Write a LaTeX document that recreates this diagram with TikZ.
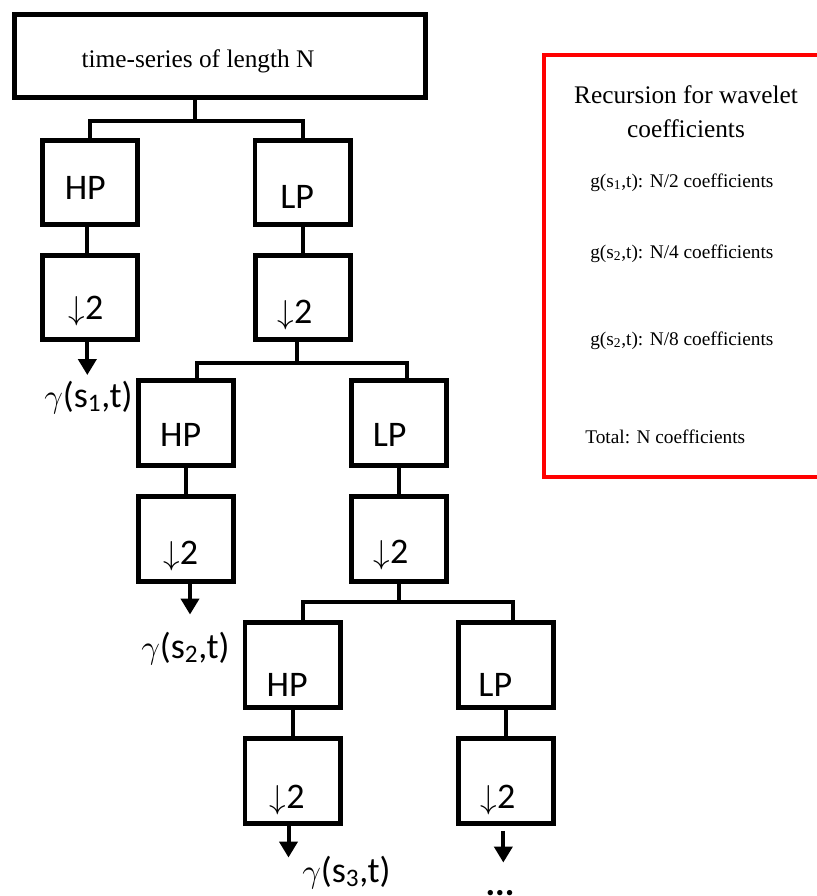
\documentclass[tikz,border=0pt]{standalone}
\usepackage{xcolor}
\usepackage{fontspec}
\setmainfont{Liberation Serif}
\newfontfamily\calibfont{Carlito}
\usetikzlibrary{arrows.meta}

\begin{document}
\begin{tikzpicture}[x=0.75pt,y=-0.75pt,
filt/.style={rectangle,draw,line width=3.6pt,minimum width=71.4pt,minimum height=63.2pt,inner sep=0pt},
lab/.style={font=\calibfont\fontsize{27}{30}\selectfont,inner sep=0pt},
gam/.style={lab,anchor=base west},
wire/.style={line width=3pt},
outarr/.style={line width=3pt,-{Triangle[length=12pt,width=13.5pt]}},
note/.style={anchor=base west,inner sep=0pt,font=\fontsize{14.5}{17}\selectfont}]
\useasboundingbox (0,0) rectangle (817,896);

\node[rectangle,draw,line width=3.6pt,minimum width=308.4pt,minimum height=62.4pt] (top) at (220,56) {};
\node[font=\fontsize{19}{22}\selectfont] (toptext) at (198,61) {time-series of length N};

\node[filt,label={[lab,xshift=-3.5pt,yshift=-4pt]center:HP}] (HP1) at (90,182.5) {};
\node[filt,label={[lab,xshift=-4pt,yshift=-11pt]center:LP}] (LP1) at (302.5,182.5) {};
\node[filt,label={[lab,xshift=-3pt,yshift=-10pt]center:$\downarrow$2}] (D1a) at (90,297.5) {};
\node[filt,label={[lab,xshift=-6pt,yshift=-13pt]center:$\downarrow$2}] (D1b) at (303,297.5) {};
\node[filt,label={[lab,xshift=-4pt,yshift=-9pt]center:HP}] (HP2) at (186,423) {};
\node[filt,label={[lab,xshift=-7pt,yshift=-9pt]center:LP}] (LP2) at (399,423) {};
\node[filt,label={[lab,xshift=-4pt,yshift=-12.5pt]center:$\downarrow$2}] (D2a) at (186,539) {};
\node[filt,label={[lab,xshift=-6pt,yshift=-12pt]center:$\downarrow$2}] (D2b) at (399,539) {};
\node[filt,label={[lab,xshift=-4pt,yshift=-15pt]center:HP}] (HP3) at (292.5,665) {};
\node[filt,label={[lab,xshift=-8pt,yshift=-15pt]center:LP}] (LP3) at (506,665) {};
\node[filt,label={[lab,xshift=-4pt,yshift=-14pt]center:$\downarrow$2}] (D3a) at (292.5,781) {};
\node[filt,label={[lab,xshift=-6pt,yshift=-14pt]center:$\downarrow$2}] (D3b) at (506,781) {};

\coordinate (j1) at (195,121);
\coordinate (j2) at (297,363);
\coordinate (j3) at (399,602);

\draw[wire] (top.south -| j1) -- (j1);
\draw[wire] (HP1.north) |- (j1) -| (LP1.north);
\draw[wire] ([xshift=-2pt]HP1.south) -- ([xshift=-2pt]D1a.north);
\draw[wire] (LP1.south) -- (LP1.south |- D1b.north);
\draw[wire] (D1b.south -| j2) -- (j2);
\draw[wire] ([xshift=8pt]HP2.north) |- (j2) -| ([xshift=6pt]LP2.north);
\draw[wire] (HP2.south) -- (D2a.north);
\draw[wire] (LP2.south) -- (D2b.north);
\draw[wire] (D2b.south -| j3) -- (j3);
\draw[wire] ([xshift=8pt]HP3.north) |- (j3) -| ([xshift=5pt]LP3.north);
\draw[wire] (HP3.south) -- (D3a.north);
\draw[wire] (LP3.south) -- (D3b.north);

\draw[outarr] ([xshift=-2pt]D1a.south) -- ++(0,33);
\draw[outarr] ([xshift=3pt]D2a.south) -- ++(0,31);
\draw[outarr] ([xshift=-3pt]D3a.south) -- ++(0,32);
\draw[outarr,shorten <=4pt] ([xshift=-2pt]D3b.south) -- ++(0,37);

\node[gam] (g1) at (44,407) {$\gamma$(s\textsubscript{1},t)};
\node[gam] (g2) at (141,658) {$\gamma$(s\textsubscript{2},t)};
\node[gam] (g3) at (302,882) {$\gamma$(s\textsubscript{3},t)};
\node[lab,anchor=base] (dots) at (500,895) {\textbf{...}};

\draw[red,line width=2.3pt] (822,55) -- (544,55) -- (544,477) -- (822,477);
\node[align=center,font=\fontsize{19}{25.5}\selectfont] (rtitle) at (686,112) {Recursion for wavelet\\coefficients};
\node[note] (r1) at (590,187) {g(s\textsubscript{1},t): N/2 coefficients};
\node[note] (r2) at (590,258) {g(s\textsubscript{2},t): N/4 coefficients};
\node[note] (r3) at (590,345) {g(s\textsubscript{2},t): N/8 coefficients};
\node[note] (r4) at (585,443) {Total: N coefficients};
\end{tikzpicture}
\end{document}
